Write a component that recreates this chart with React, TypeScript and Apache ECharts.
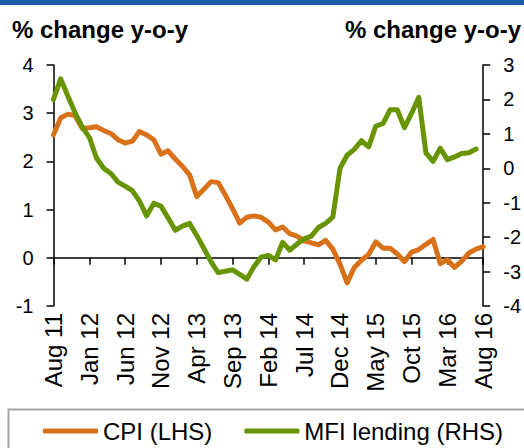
import React, { useEffect, useRef } from "react";
import * as echarts from "echarts";

const MONTHS = ["Jan", "Feb", "Mar", "Apr", "May", "Jun", "Jul", "Aug", "Sep", "Oct", "Nov", "Dec"];
// Aug 2011 .. Aug 2016
const categories: string[] = [];
for (let k = 0; k < 61; k++) {
  const m = (7 + k) % 12;
  const y = 11 + Math.floor((7 + k) / 12);
  categories.push(`${MONTHS[m]} ${y}`);
}

const cpi = [
  2.55, 2.9, 2.98, 2.95, 2.69, 2.7, 2.72, 2.64, 2.58, 2.45,
  2.38, 2.42, 2.62, 2.55, 2.45, 2.15, 2.22, 2.05, 1.9, 1.72,
  1.27, 1.42, 1.58, 1.56, 1.3, 1.02, 0.72, 0.84, 0.87, 0.84,
  0.74, 0.58, 0.64, 0.5, 0.45, 0.35, 0.31, 0.27, 0.36, 0.18,
  -0.13, -0.52, -0.2, -0.05, 0.07, 0.33, 0.2, 0.2, 0.08, -0.08,
  0.12, 0.17, 0.28, 0.38, -0.12, -0.04, -0.2, -0.07, 0.1, 0.18,
  0.23,
];

const mfiLending = [
  2.0, 2.6, 2.1, 1.62, 1.2, 0.9, 0.3, 0.0, -0.15, -0.4,
  -0.52, -0.65, -0.95, -1.38, -1.02, -1.1, -1.44, -1.8, -1.68, -1.6,
  -1.95, -2.33, -2.72, -3.03, -2.99, -2.95, -3.08, -3.22, -2.85, -2.58,
  -2.53, -2.66, -2.15, -2.38, -2.2, -2.05, -1.97, -1.72, -1.6, -1.42,
  0.0, 0.38, 0.55, 0.8, 0.62, 1.22, 1.3, 1.7, 1.7, 1.18,
  1.6, 2.06, 0.45, 0.2, 0.58, 0.25, 0.33, 0.43, 0.45, 0.56,
  null,
];

const leftTicks = { min: -1, max: 4, interval: 1 };
const rightTicks = { min: -4, max: 3, interval: 1 };
const axisTitle = "% change y-o-y";
const seriesNames = ["CPI (LHS)", "MFI lending (RHS)"];

const FONT = "'Liberation Sans', Arial, sans-serif";
const ORANGE = "#d8711a";
const GREEN = "#679400";

export default function App() {
  const ref = useRef<HTMLDivElement>(null);
  useEffect(() => {
    const chart = echarts.init(ref.current!, null, { renderer: "svg" });
    chart.setOption({
      animation: false,
      backgroundColor: "#fff",
      textStyle: { fontFamily: FONT },
      grid: { left: 53.5, right: 40, top: 65, bottom: 142, containLabel: false },
      legend: {
        data: seriesNames,
        left: 43,
        top: 419,
        padding: 0,
        itemWidth: 55,
        itemHeight: 5,
        itemGap: 32,
        icon: "roundRect",
        textStyle: { fontSize: 24, color: "#000", fontFamily: FONT },
      },
      xAxis: [
        {
          type: "category",
          data: categories,
          boundaryGap: false,
          axisLine: { show: true, onZero: true, onZeroAxisIndex: 0, lineStyle: { color: "#000", width: 1.5 } },
          axisTick: { show: true, interval: 4, length: 7, lineStyle: { color: "#000", width: 1.5 } },
          axisLabel: { show: false },
          splitLine: { show: false },
        },
        {
          type: "category",
          data: categories,
          boundaryGap: false,
          position: "bottom",
          axisLine: { show: false, onZero: false },
          axisTick: { show: false },
          axisLabel: {
            show: true,
            interval: 4,
            rotate: 90,
            margin: 7,
            fontSize: 24,
            color: "#000",
            fontFamily: FONT,
          },
          splitLine: { show: false },
        },
      ],
      yAxis: [
        {
          type: "value",
          position: "left",
          ...leftTicks,
          axisLine: { show: true, onZero: false, lineStyle: { color: "#000", width: 1.5 } },
          axisTick: { show: true, length: 7, lineStyle: { color: "#000", width: 1.5 } },
          axisLabel: { fontSize: 20, color: "#000", margin: 20, fontFamily: FONT },
          splitLine: { show: false },
        },
        {
          type: "value",
          position: "right",
          ...rightTicks,
          axisLine: { show: true, onZero: false, lineStyle: { color: "#000", width: 1.5 } },
          axisTick: { show: true, length: 7, lineStyle: { color: "#000", width: 1.5 } },
          axisLabel: { fontSize: 20, color: "#000", margin: 20, fontFamily: FONT },
          splitLine: { show: false },
        },
      ],
      series: [
        {
          name: seriesNames[0],
          type: "line",
          xAxisIndex: 0,
          yAxisIndex: 0,
          data: cpi,
          symbol: "none",
          color: ORANGE,
          lineStyle: { color: ORANGE, width: 5, cap: "round", join: "round" },
          z: 3,
        },
        {
          name: seriesNames[1],
          type: "line",
          xAxisIndex: 0,
          yAxisIndex: 1,
          data: mfiLending,
          symbol: "none",
          color: GREEN,
          lineStyle: { color: GREEN, width: 5, cap: "round", join: "round" },
          z: 4,
        },
      ],
      graphic: [
        { type: "rect", shape: { x: 0, y: 0, width: 524, height: 5 }, style: { fill: "#1d5ea8" }, silent: true },
        {
          type: "rect",
          shape: { x: 8.5, y: 409.5, width: 600, height: 100 },
          style: { fill: "none", stroke: "#a6a6a6", lineWidth: 2 },
          silent: true,
        },
        {
          type: "text",
          x: 12,
          y: 29,
          style: { text: axisTitle, font: `bold 24px ${FONT}`, fill: "#000", align: "left", verticalAlign: "middle" },
        },
        {
          type: "text",
          x: 521,
          y: 29,
          style: { text: axisTitle, font: `bold 24px ${FONT}`, fill: "#000", align: "right", verticalAlign: "middle" },
        },
      ],
    });
    return () => chart.dispose();
  }, []);
  return <div ref={ref} style={{ position: "fixed", left: 0, top: 0, width: 524, height: 448 }} />;
}
